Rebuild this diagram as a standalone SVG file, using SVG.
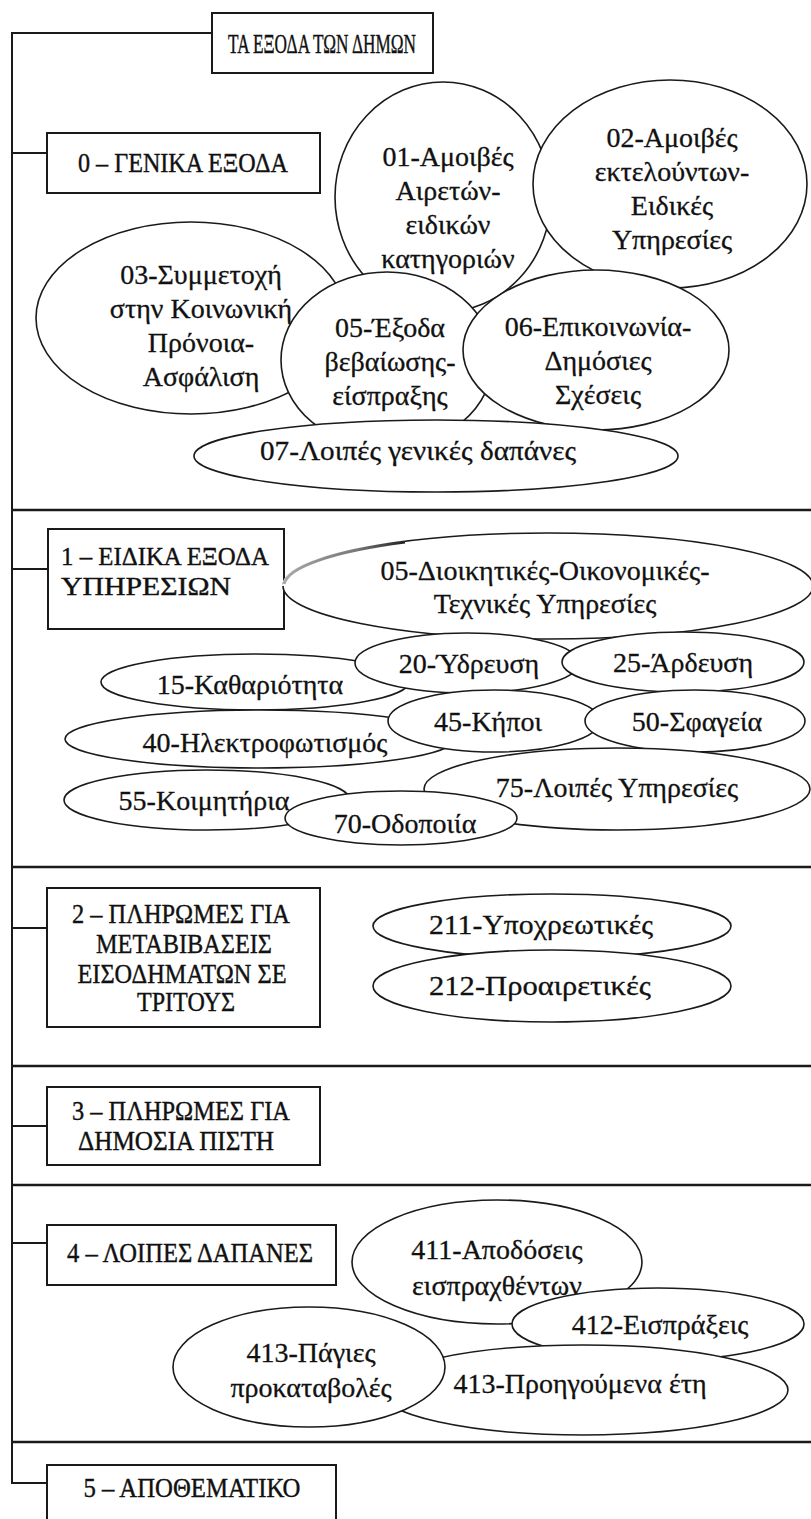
<svg xmlns="http://www.w3.org/2000/svg" width="811" height="1519" viewBox="0 0 811 1519">
<defs>
<style>
.ln{stroke:#1a1a1a;stroke-width:2;fill:none}
.sep{stroke:#1a1a1a;stroke-width:2.5;fill:none}
.box{fill:#fff;stroke:#1a1a1a;stroke-width:2}
.el{fill:#fff;stroke:#1a1a1a;stroke-width:1.6}
.bt{font-family:"Liberation Serif","DejaVu Serif",serif;font-size:27px;fill:#111;stroke:#111;stroke-width:0.4;text-anchor:middle}
.bl{font-family:"Liberation Serif","DejaVu Serif",serif;font-size:26px;fill:#111;stroke:#111;stroke-width:0.4}
.et{font-family:"Liberation Serif","DejaVu Serif",serif;font-size:28px;fill:#111;stroke:#111;stroke-width:0.3;text-anchor:middle}
</style>
<linearGradient id="fade" x1="0" y1="0" x2="1" y2="0">
<stop offset="0" stop-color="#a8a8a8"/>
<stop offset="0.6" stop-color="#777"/>
<stop offset="1" stop-color="#222"/>
</linearGradient>
</defs>
<rect width="811" height="1519" fill="#fff"/>

<g id="connectors">
<path class="ln" d="M212,33 H12 V1483 H47"/>
<path class="ln" d="M12,153 H47"/>
<path class="ln" d="M12,569 H48"/>
<path class="ln" d="M12,928 H47"/>
<path class="ln" d="M12,1126 H47"/>
<path class="ln" d="M12,1243 H47"/>
<path class="sep" d="M12,510 H811"/>
<path class="sep" d="M12,867 H811"/>
<path class="sep" d="M12,1066 H811"/>
<path class="sep" d="M12,1185 H811"/>
<path class="sep" d="M12,1442 H811"/>
</g>

<g id="title">
<rect class="box" x="212" y="13" width="221" height="60"/>
<text class="bt" x="322" y="53" font-size="28" textLength="188" lengthAdjust="spacingAndGlyphs">ΤΑ ΕΞΟΔΑ ΤΩΝ ΔΗΜΩΝ</text>
</g>

<g id="box0">
<rect class="box" x="47" y="133" width="273" height="60"/>
<text class="bt" x="183" y="172" textLength="210" lengthAdjust="spacingAndGlyphs">0 – ΓΕΝΙΚΑ ΕΞΟΔΑ</text>
</g>

<g id="e01">
<ellipse class="el" cx="443" cy="197" rx="108" ry="115"/>
<text class="et"><tspan x="448" y="166">01-Αμοιβές</tspan><tspan x="448" y="200">Αιρετών-</tspan><tspan x="448" y="234">ειδικών</tspan><tspan x="448" y="268">κατηγοριών</tspan></text>
</g>
<g id="e02">
<ellipse class="el" cx="670" cy="184" rx="137" ry="104"/>
<text class="et"><tspan x="672" y="147">02-Αμοιβές</tspan><tspan x="672" y="181">εκτελούντων-</tspan><tspan x="672" y="215">Ειδικές</tspan><tspan x="672" y="249">Υπηρεσίες</tspan></text>
</g>
<g id="e03">
<ellipse class="el" cx="191" cy="318" rx="155" ry="96"/>
<text class="et"><tspan x="201" y="284">03-Συμμετοχή</tspan><tspan x="201" y="318">στην Κοινωνική</tspan><tspan x="201" y="352">Πρόνοια-</tspan><tspan x="201" y="386">Ασφάλιση</tspan></text>
</g>
<g id="e05">
<ellipse class="el" cx="387" cy="360" rx="106" ry="88"/>
<text class="et"><tspan x="390" y="337">05-Έξοδα</tspan><tspan x="390" y="371">βεβαίωσης-</tspan><tspan x="390" y="405">είσπραξης</tspan></text>
</g>
<g id="e06">
<ellipse class="el" cx="596" cy="350" rx="133" ry="80"/>
<text class="et"><tspan x="598" y="336">06-Επικοινωνία-</tspan><tspan x="598" y="370">Δημόσιες</tspan><tspan x="598" y="404">Σχέσεις</tspan></text>
</g>
<g id="e07">
<ellipse class="el" cx="436" cy="456" rx="242" ry="36"/>
<text class="et" x="418" y="460" textLength="316" lengthAdjust="spacingAndGlyphs">07-Λοιπές γενικές δαπάνες</text>
</g>

<g id="box1">
<rect class="box" x="48" y="529" width="236" height="100"/>
<text class="bl"><tspan x="61" y="565" textLength="208" lengthAdjust="spacingAndGlyphs">1 – ΕΙΔΙΚΑ ΕΞΟΔΑ</tspan><tspan x="61" y="595" textLength="170" lengthAdjust="spacingAndGlyphs">ΥΠΗΡΕΣΙΩΝ</tspan></text>
</g>

<g id="e1_05">
<ellipse class="el" cx="548" cy="586" rx="265" ry="53"/>
<path d="M284,586 A265,53 0 0 1 405,542" fill="none" stroke="#fff" stroke-width="4"/>
<path d="M284,584 A265,53 0 0 1 405,542" fill="none" stroke="url(#fade)" stroke-width="3"/>
<text class="et"><tspan x="545" y="580">05-Διοικητικές-Οικονομικές-</tspan><tspan x="545" y="613">Τεχνικές Υπηρεσίες</tspan></text>
</g>
<g id="e1_15">
<ellipse class="el" cx="255" cy="682" rx="154" ry="28"/>
<text class="et" x="250" y="694">15-Καθαριότητα</text>
</g>
<g id="e1_40">
<ellipse class="el" cx="260" cy="739" rx="195" ry="29"/>
<text class="et" x="265" y="752">40-Ηλεκτροφωτισμός</text>
</g>
<g id="e1_20">
<ellipse class="el" cx="467" cy="663" rx="112" ry="30"/>
<text class="et" x="469" y="673">20-Ύδρευση</text>
</g>
<g id="e1_25">
<ellipse class="el" cx="683" cy="662" rx="121" ry="30"/>
<text class="et" x="683" y="672">25-Άρδευση</text>
</g>
<g id="e1_45">
<ellipse class="el" cx="494" cy="721" rx="106" ry="31"/>
<text class="et" x="488" y="731">45-Κήποι</text>
</g>
<g id="e1_50">
<ellipse class="el" cx="695" cy="721" rx="110" ry="31"/>
<text class="et" x="697" y="731">50-Σφαγεία</text>
</g>
<g id="e1_75">
<ellipse class="el" cx="617" cy="789" rx="193" ry="41"/>
<text class="et" x="617" y="797">75-Λοιπές Υπηρεσίες</text>
</g>
<g id="e1_55">
<ellipse class="el" cx="207" cy="800" rx="143" ry="30"/>
<text class="et" x="204" y="810">55-Κοιμητήρια</text>
</g>
<g id="e1_70">
<ellipse class="el" cx="401" cy="818" rx="116" ry="27"/>
<text class="et" x="405" y="833">70-Οδοποιία</text>
</g>

<g id="box2">
<rect class="box" x="47" y="888" width="273" height="139"/>
<text class="bt"><tspan x="181" y="923" textLength="218" lengthAdjust="spacingAndGlyphs">2 – ΠΛΗΡΩΜΕΣ ΓΙΑ</tspan><tspan x="184" y="953" textLength="176" lengthAdjust="spacingAndGlyphs">ΜΕΤΑΒΙΒΑΣΕΙΣ</tspan><tspan x="182" y="983" textLength="209" lengthAdjust="spacingAndGlyphs">ΕΙΣΟΔΗΜΑΤΩΝ ΣΕ</tspan><tspan x="186" y="1011" textLength="98" lengthAdjust="spacingAndGlyphs">ΤΡΙΤΟΥΣ</tspan></text>
</g>
<g id="e2_211">
<ellipse class="el" cx="552" cy="926" rx="179" ry="32"/>
<text class="et" x="541" y="934" textLength="224" lengthAdjust="spacingAndGlyphs">211-Υποχρεωτικές</text>
</g>
<g id="e2_212">
<ellipse class="el" cx="552" cy="986" rx="179" ry="36"/>
<text class="et" x="540" y="995" textLength="222" lengthAdjust="spacingAndGlyphs">212-Προαιρετικές</text>
</g>

<g id="box3">
<rect class="box" x="47" y="1087" width="273" height="78"/>
<text class="bt"><tspan x="181" y="1120" textLength="218" lengthAdjust="spacingAndGlyphs">3 – ΠΛΗΡΩΜΕΣ ΓΙΑ</tspan><tspan x="176" y="1150" textLength="196" lengthAdjust="spacingAndGlyphs">ΔΗΜΟΣΙΑ ΠΙΣΤΗ</tspan></text>
</g>

<g id="box4">
<rect class="box" x="47" y="1225" width="289" height="60"/>
<text class="bt" x="190" y="1262" textLength="246" lengthAdjust="spacingAndGlyphs">4 – ΛΟΙΠΕΣ ΔΑΠΑΝΕΣ</text>
</g>
<g id="e4_411">
<ellipse class="el" cx="497" cy="1262" rx="145" ry="62"/>
<text class="et"><tspan x="497" y="1259">411-Αποδόσεις</tspan><tspan x="497" y="1295">εισπραχθέντων</tspan></text>
</g>
<g id="e4_412">
<ellipse class="el" cx="658" cy="1324" rx="146" ry="36"/>
<text class="et" x="660" y="1334">412-Εισπράξεις</text>
</g>
<g id="e4_413b">
<ellipse class="el" cx="583" cy="1390" rx="205" ry="45"/>
<text class="et" x="580" y="1393">413-Προηγούμενα έτη</text>
</g>
<g id="e4_413a">
<ellipse class="el" cx="309" cy="1367" rx="136" ry="60"/>
<text class="et"><tspan x="311" y="1362">413-Πάγιες</tspan><tspan x="311" y="1397">προκαταβολές</tspan></text>
</g>

<g id="box5">
<rect class="box" x="47" y="1465" width="289" height="70"/>
<text class="bt" x="192" y="1497" textLength="217" lengthAdjust="spacingAndGlyphs">5 – ΑΠΟΘΕΜΑΤΙΚΟ</text>
</g>
</svg>
